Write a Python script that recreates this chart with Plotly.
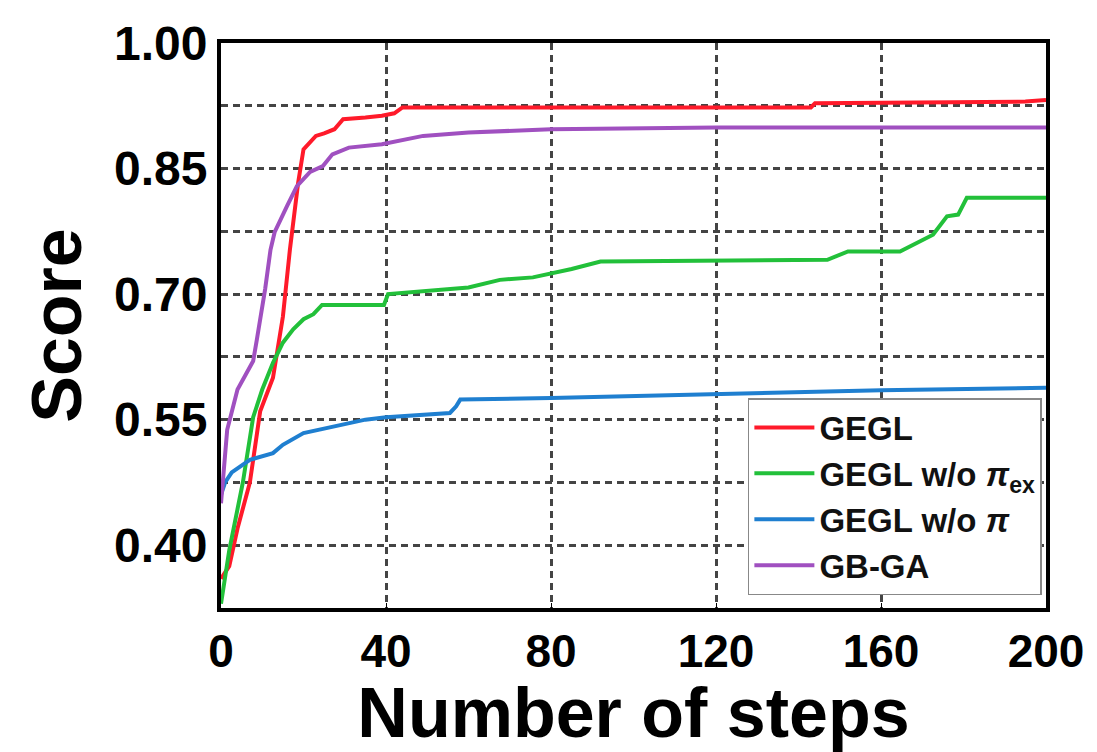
import plotly.graph_objects as go

# ---- data ----
red_x = [0, 2, 4, 7, 9.5, 12.6, 15, 16.7, 18.7, 20, 23, 25, 27.5, 29.6, 35, 39, 42, 44, 60, 100, 143, 144, 180, 195, 200]
red_y = [0.36, 0.375, 0.42, 0.475, 0.56, 0.60, 0.673, 0.753, 0.833, 0.873, 0.889, 0.892, 0.897, 0.909, 0.911, 0.913, 0.916, 0.923, 0.923, 0.923, 0.923, 0.928, 0.929, 0.930, 0.932]

green_x = [0, 2, 5.3, 7.8, 10, 12.6, 15, 17.5, 20, 22.4, 24.5, 39.5, 40.5, 51.4, 60, 67.6, 75.6, 85, 92, 147, 152, 164.6, 169.4, 172.6, 176, 178.7, 180.8, 200]
green_y = [0.33, 0.394, 0.475, 0.553, 0.586, 0.618, 0.642, 0.658, 0.67, 0.676, 0.687, 0.687, 0.70, 0.704, 0.708, 0.717, 0.72, 0.73, 0.739, 0.741, 0.751, 0.751, 0.763, 0.771, 0.793, 0.795, 0.815, 0.815]

blue_x = [0, 1, 2.6, 7, 12.6, 15, 20, 27, 35, 40, 55.5, 57, 58, 80, 120, 160, 200]
blue_y = [0.46, 0.475, 0.487, 0.502, 0.51, 0.52, 0.534, 0.541, 0.55, 0.553, 0.558, 0.566, 0.574, 0.576, 0.581, 0.585, 0.588]

purple_x = [0, 1.5, 4, 7.8, 8.7, 10.7, 12, 13, 16, 18.4, 21.6, 24.7, 27, 31, 39, 49, 60, 80, 120, 200]
purple_y = [0.45, 0.538, 0.586, 0.62, 0.646, 0.706, 0.753, 0.774, 0.805, 0.829, 0.846, 0.853, 0.867, 0.875, 0.879, 0.889, 0.893, 0.897, 0.899, 0.899]

series_names = ["GEGL", "GEGL w/o <i>π</i><sub>ex</sub>", "GEGL w/o <i>π</i>", "GB-GA"]
series_colors = ["#ff1a2a", "#22c03a", "#1f7fd0", "#a050c0"]

y_tick_vals = [0.40, 0.55, 0.70, 0.85, 1.00]
y_tick_text = ["0.40", "0.55", "0.70", "0.85", "1.00"]
x_tick_vals = [0, 40, 80, 120, 160, 200]

FONT = "Liberation Sans, Arial, Helvetica, sans-serif"
GRID = dict(gridcolor="#444444", griddash="7px,5px", gridwidth=2.5)

fig = go.Figure()
for xs, ys, name, col in zip([red_x, green_x, blue_x, purple_x],
                             [red_y, green_y, blue_y, purple_y],
                             series_names, series_colors):
    fig.add_trace(go.Scatter(x=xs, y=ys, mode="lines", name=name,
                             line=dict(color=col, width=4)))

fig.update_layout(
    width=1097, height=752,
    margin=dict(l=221, r=51, t=43, b=144),
    paper_bgcolor="white", plot_bgcolor="white",
    font=dict(family=FONT, color="black", weight="bold"),
    legend=dict(
        x=0.995, y=0.023, xanchor="right", yanchor="bottom",
        bgcolor="white", bordercolor="#888888", borderwidth=1.5,
        font=dict(size=33, family=FONT, color="#111111", weight="bold"),
        tracegroupgap=0, itemwidth=60,
    ),
    showlegend=True,
)

fig.update_xaxes(
    range=[0, 200], tickvals=x_tick_vals, ticktext=[str(v) for v in x_tick_vals],
    showgrid=True, **GRID,
    showline=True, linecolor="black", linewidth=4, mirror=True,
    ticks="inside", ticklen=5, tickcolor="black",
    tickfont=dict(size=46, family=FONT, weight="bold"),
    title=dict(text="Number of steps", font=dict(size=70, family=FONT, weight="bold"), standoff=10),
    zeroline=False,
)
fig.update_yaxes(
    range=[0.325, 1.0], tickvals=y_tick_vals, ticktext=y_tick_text,
    showgrid=True, **GRID,
    minor=dict(tick0=0.4, dtick=0.075, showgrid=True, **GRID),
    showline=True, linecolor="black", linewidth=4, mirror=True,
    ticks="", tickfont=dict(size=48, family=FONT, weight="bold"),
    title=dict(text="Score", font=dict(size=70, family=FONT, weight="bold"), standoff=10),
    zeroline=False,
)

fig.write_html("out.html")
